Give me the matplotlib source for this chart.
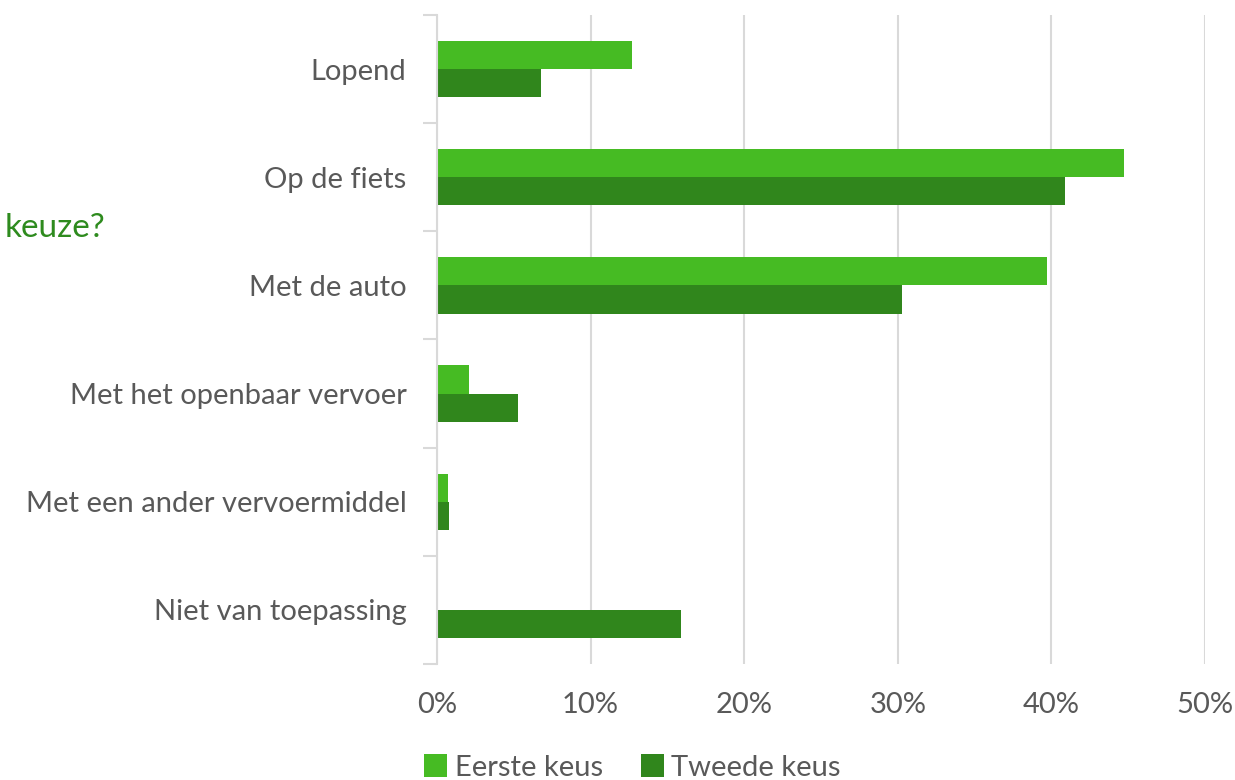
import numpy as np
import matplotlib.pyplot as plt
from matplotlib.ticker import PercentFormatter, FixedLocator

plt.rcParams['font.family'] = ['Lato', 'DejaVu Sans']

categories = ["Lopend", "Op de fiets", "Met de auto", "Met het openbaar vervoer",
              "Met een ander vervoermiddel", "Niet van toepassing"]
eerste = [12.7, 44.7, 39.7, 2.1, 0.7, 0.0]
tweede = [6.8, 40.9, 30.3, 5.3, 0.8, 15.9]
series_names = ["Eerste keus", "Tweede keus"]

light = "#46BB23"
dark = "#30861C"
grid = "#D9D9D9"
txt = "#595959"

fig = plt.figure(figsize=(12.35, 7.8), dpi=100)
ax = fig.add_axes([0.3538, 0.1487, 0.6219, 0.8321])

y = np.arange(len(categories))
h = 0.26
ax.barh(y - h / 2, eerste, height=h, color=light, label=series_names[0])
ax.barh(y + h / 2, tweede, height=h, color=dark, label=series_names[1])

ax.set_xlim(0, 50)
ax.set_ylim(len(categories) - 0.5, -0.5)
ax.set_xticks(np.arange(0, 51, 10))
ax.xaxis.set_major_formatter(PercentFormatter(decimals=0))
ax.set_yticks(y)
ax.set_yticklabels(categories)
ax.yaxis.set_minor_locator(FixedLocator(np.arange(-0.5, len(categories), 1)))

ax.set_axisbelow(True)
ax.grid(axis='x', color=grid, linewidth=1.5)
for s in ['top', 'right', 'bottom']:
    ax.spines[s].set_visible(False)
ax.spines['left'].set_color(grid)
ax.spines['left'].set_linewidth(1.5)

ax.tick_params(axis='x', length=0, pad=20, labelsize=21, labelcolor=txt)
ax.tick_params(axis='y', which='major', length=0, pad=22, labelsize=21, labelcolor=txt)
ax.tick_params(axis='y', which='minor', length=10, width=1.5, color=grid)

fig.text(0.004, 0.708, "keuze?", color="#2E8B1E", fontsize=24, va='center', ha='left')

fig.legend(loc='center', bbox_to_anchor=(0.512, 0.016), ncol=2, frameon=False,
           fontsize=21, labelcolor=txt, handlelength=0.8, handleheight=0.8,
           handletextpad=0.25, columnspacing=1.3)

fig.savefig("out.png", dpi=100)
